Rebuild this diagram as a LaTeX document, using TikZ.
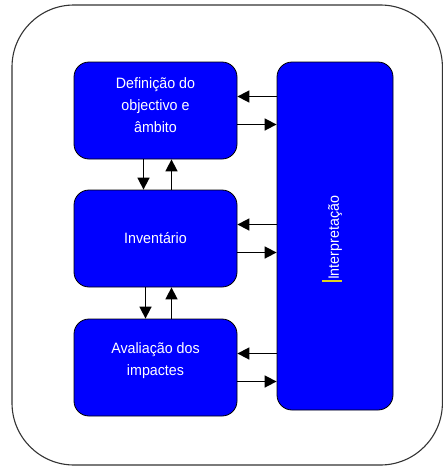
\documentclass[tikz,border=0pt]{standalone}
\usepackage{fontspec}
\setmainfont[FakeStretch=0.95]{Liberation Sans}
\usetikzlibrary{arrows.meta}

\tikzset{
  blok/.style={draw=black, line width=0.8pt, fill=blue, rounded corners=15pt, inner sep=0pt},
  lbl/.style={text=white, align=center, font=\fontsize{15}{22}\selectfont},
  arr/.style={-{Triangle[length=12pt,width=12pt]}, line width=1.6pt}
}

\begin{document}
\begin{tikzpicture}[x=1pt,y=1pt]
\useasboundingbox (0,0) rectangle (443,-466);
% outer frame
\draw[line width=1.1pt, black!80, rounded corners=62pt] (12,-5) rectangle (442.4,-465);

\node[blok, minimum width=163pt, minimum height=97pt] (def) at (155.5,-110.5) {};
\node[blok, minimum width=163pt, minimum height=97pt] (inv) at (155.5,-238.5) {};
\node[blok, minimum width=163pt, minimum height=97pt] (aval) at (155.5,-367.5) {};
\node[blok, minimum width=116pt, minimum height=348pt] (interp) at (335,-236) {};

\node[lbl] (deftxt) at ([yshift=5pt]def.center) {Definição do\\objectivo e\\âmbito};
\node[lbl] (invtxt) at (inv.center) {Inventário};
\node[lbl] (avaltxt) at ([yshift=7pt]aval.center) {Avaliação dos\\impactes};
\node[lbl, rotate=90] (interptxt) at ([yshift=-2pt]interp.center) {Interpretação};
% text cursor
\draw[yellow!85!black, line width=1.5pt] ([xshift=-13pt,yshift=2.5pt]interptxt.west) -- ([xshift=7pt,yshift=2.5pt]interptxt.west);

% left-right links
\foreach \b in {def,inv,aval} {
  \draw[arr] ([yshift=14pt]\b.east -| interp.west) -- ([yshift=14pt]\b.east);
  \draw[arr] ([yshift=-14pt]\b.east) -- ([yshift=-14pt]\b.east -| interp.west);
}

% up-down links
\draw[arr] ([xshift=-12pt]def.south) -- ([xshift=-12pt]inv.north);
\draw[arr] ([xshift=16pt]inv.north) -- ([xshift=16pt]def.south);
\draw[arr] ([xshift=-10pt]inv.south) -- ([xshift=-10pt]aval.north);
\draw[arr] ([xshift=16pt]aval.north) -- ([xshift=16pt]inv.south);
\end{tikzpicture}
\end{document}
